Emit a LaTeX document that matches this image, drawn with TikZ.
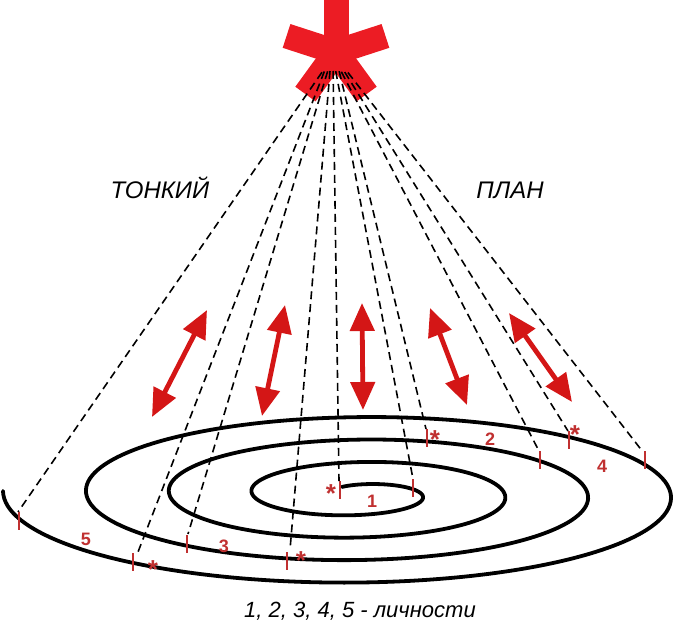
\documentclass[tikz,border=0pt]{standalone}
\usepackage{fontspec}
\setmainfont{Liberation Sans}
\usetikzlibrary{arrows.meta}
\definecolor{starred}{RGB}{236,28,36}
\definecolor{arrred}{RGB}{212,22,22}
\definecolor{markred}{RGB}{192,48,48}
\begin{document}
\begin{tikzpicture}[x=1pt,y=-1pt,
  spir/.style={line width=3.8pt, line cap=round},
  ray/.style={line width=1.6pt, dash pattern=on 8pt off 5pt, shorten <=-7pt},
  dbl/.style={arrred, line width=4.8pt, {Triangle[width=24pt,length=28pt]}-{Triangle[width=24pt,length=28pt]}},
  marktick/.style={markred, line width=1.9pt},
  num/.style={markred, font=\fontsize{18}{20}\selectfont\bfseries, inner sep=0pt, anchor=base},
  smallstar/.style={markred, font=\fontsize{26}{26}\selectfont\bfseries, inner sep=0pt, anchor=base},
  lab/.style={font=\fontsize{24}{28}\selectfont\itshape, inner sep=0pt, anchor=base}]
\useasboundingbox (0,0) rectangle (674,626);

% big asterisk
\begin{scope}[shift={(336,52)}]
  \foreach \a in {90,162,18,234,306}
    \fill[starred, rotate=\a] (-6,-12.5) -- (52,-12.5) -- (52,12.5) -- (-6,12.5) -- cycle;
\end{scope}

% spiral
\draw[spir] plot[domain=-115:1262, samples=600, smooth]
  ({357.75+(64+0.230556*\x)*cos(\x)}, {494.2+(15.2+0.0625*\x)*sin(\x)});

% tick positions
\coordinate (t1) at (19,521);
\coordinate (t2) at (133,562);
\coordinate (t3) at (187,544);
\coordinate (t4) at (287,561);
\coordinate (t5) at (340,490);
\coordinate (t6) at (413,488);
\coordinate (t7) at (427,438);
\coordinate (t8) at (540,460);
\coordinate (t9) at (569,440);
\coordinate (t10) at (645,460);

% ray start points
\coordinate (s1) at (318,78);
\coordinate (s2) at (321.8,78);
\coordinate (s3) at (325.6,78);
\coordinate (s4) at (329.4,78);
\coordinate (s5) at (333.2,78);
\coordinate (s6) at (337,78);
\coordinate (s7) at (340.8,78);
\coordinate (s8) at (344.6,78);
\coordinate (s9) at (348.4,78);
\coordinate (s10) at (352.2,78);

% ray end points
\coordinate (e1) at (18,512);
\coordinate (e2) at (138,552);
\coordinate (e3) at (188,534);
\coordinate (e4) at (290,550);
\coordinate (e5) at (339,481);
\coordinate (e6) at (413,479);
\coordinate (e7) at (426,429);
\coordinate (e8) at (539,451);
\coordinate (e9) at (568,431);
\coordinate (e10) at (643,452);

\foreach \i in {1,...,10} \draw[ray] (s\i) -- (e\i);

\foreach \i in {1,...,10}
  \draw[marktick] ([yshift=9pt]t\i) -- ([yshift=-9pt]t\i);

% small stars
\node[smallstar] (st2) at (153,578) {*};
\node[smallstar] (st4) at (301,569) {*};
\node[smallstar] (st5) at (331,502) {*};
\node[smallstar] (st7) at (435,448) {*};
\node[smallstar] (st9) at (575,443) {*};

% numbers
\node[num] (n1) at (372,507) {1};
\node[num] (n2) at (490,445) {2};
\node[num] (n3) at (224,552) {3};
\node[num] (n4) at (602,472) {4};
\node[num] (n5) at (86,545) {5};

% double arrows
\coordinate (a1) at (207,310); \coordinate (b1) at (152,417);
\coordinate (a2) at (285,305); \coordinate (b2) at (262,416);
\coordinate (a3) at (362,303); \coordinate (b3) at (363,410);
\coordinate (a4) at (430,308); \coordinate (b4) at (467,405);
\coordinate (a5) at (509,313); \coordinate (b5) at (572,402);
\foreach \i in {1,...,5} \draw[dbl] (a\i) -- (b\i);

% texts
\node[lab] (thin) at (160,198) {ТОНКИЙ};
\node[lab] (plan) at (510,198) {ПЛАН};
\node[lab, font=\fontsize{22}{26}\selectfont\itshape] (legend) at (360,617) {1, 2, 3, 4, 5 - личности};
\end{tikzpicture}
\end{document}
